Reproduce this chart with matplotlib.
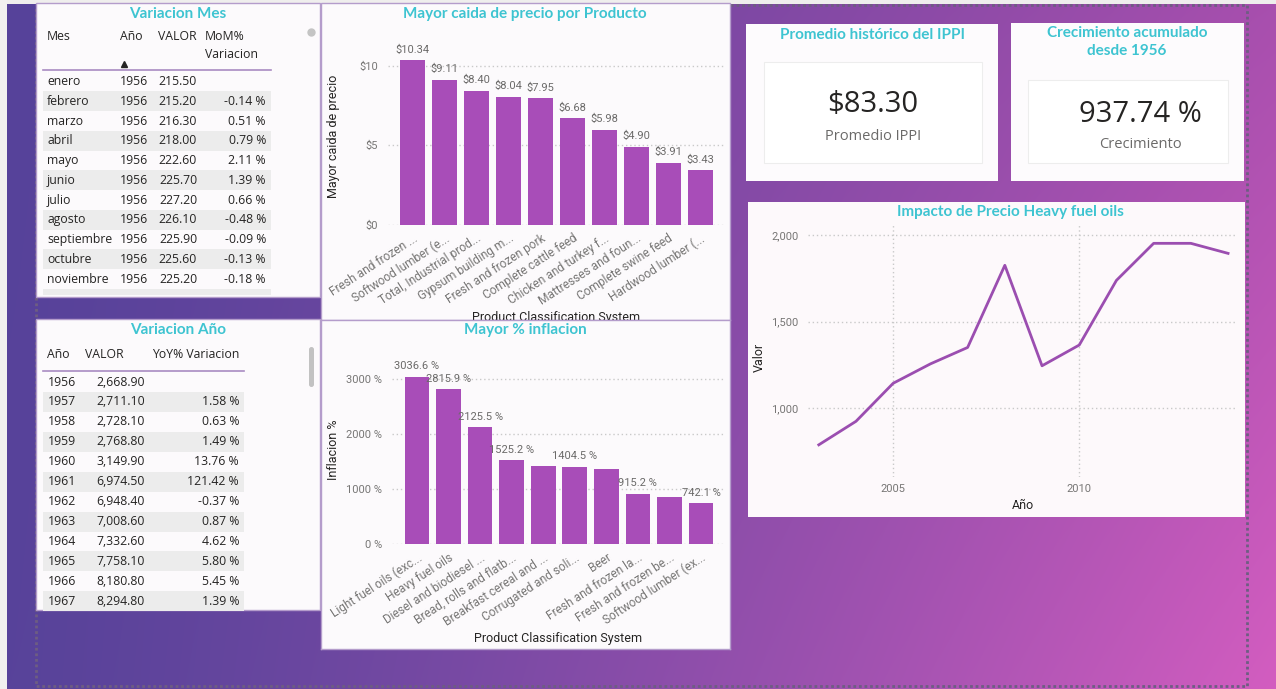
import numpy as np
import matplotlib.pyplot as plt
import matplotlib.colors as mcolors
from matplotlib.patches import Rectangle, FancyBboxPatch

W, H = 1276, 689

# --- tabla "Variacion Mes"
meses = ["enero", "febrero", "marzo", "abril", "mayo", "junio", "julio",
         "agosto", "septiembre", "octubre", "noviembre"]
mes_anio = [1956, 1956, 1956, 1956, 1956, 1956, 1956, 1956, 1956, 1956, 1956]
mes_valor = [215.50, 215.20, 216.30, 218.00, 222.60, 225.70, 227.20,
             226.10, 225.90, 225.60, 225.20]
mes_mom = [None, -0.14, 0.51, 0.79, 2.11, 1.39, 0.66, -0.48, -0.09, -0.13, -0.18]

# --- tabla "Variacion Año"
anios = [1956, 1957, 1958, 1959, 1960, 1961, 1962, 1963, 1964, 1965, 1966, 1967]
anio_valor = [2668.90, 2711.10, 2728.10, 2768.80, 3149.90, 6974.50, 6948.40,
              7008.60, 7332.60, 7758.10, 8180.80, 8294.80]
anio_yoy = [None, 1.58, 0.63, 1.49, 13.76, 121.42, -0.37, 0.87, 4.62, 5.80, 5.45, 1.39]

# --- barras "Mayor caida de precio por Producto"
caida_productos = ["Fresh and frozen ...", "Softwood lumber (e...", "Total, Industrial prod...",
                   "Gypsum building m...", "Fresh and frozen pork", "Complete cattle feed",
                   "Chicken and turkey f...", "Mattresses and foun...", "Complete swine feed",
                   "Hardwood lumber (..."]
caida_valores = [10.34, 9.11, 8.40, 8.04, 7.95, 6.68, 5.98, 4.90, 3.91, 3.43]

# --- barras "Mayor % inflacion"
inflacion_productos = ["Light fuel oils (exc...", "Heavy fuel oils", "Diesel and biodiesel ...",
                       "Bread, rolls and flatb...", "Breakfast cereal and ...",
                       "Corrugated and soli...", "Beer", "Fresh and frozen la...",
                       "Fresh and frozen be...", "Softwood lumber (ex..."]
inflacion_valores = [3036.6, 2815.9, 2125.5, 1525.2, 1424.0, 1404.5, 1370.0, 915.2, 849.0, 742.1]
inflacion_etiqueta = [True, True, True, True, False, True, False, True, False, True]

# --- linea "Impacto de Precio Heavy fuel oils"
fuel_anios = [2003, 2004, 2005, 2006, 2007, 2008, 2009, 2010, 2011, 2012, 2013, 2014]
fuel_valores = [787, 923, 1143, 1255, 1350, 1825, 1244, 1364, 1738, 1952, 1952, 1894]

# --- tarjetas
promedio_ippi = 83.30
crecimiento = 937.74

TEAL = "#3ec4d1"
BAR = "#a84db8"
LINE = "#9b4eb0"
PANEL = "#fcfafc"
TXT = "#252423"
GRAY = "#6b6a69"
GRID = "#c9c9c9"
TITLE_FONT = "Lato"
BODY_FONT = "Open Sans"
AXIS_FONT = "Roboto"


def box(x0, y0, x1, y1):
    return [x0 / W, 1 - y1 / H, (x1 - x0) / W, (y1 - y0) / H]


fig = plt.figure(figsize=(W / 100, H / 100), dpi=100)

# fondo con degradado
bg = fig.add_axes([0, 0, 1, 1])
bg.set_zorder(-1)
xx, yy = np.meshgrid(np.linspace(0, 1, 400), np.linspace(0, 1, 200))
u = (xx ** 1.3)[..., None]
v = yy[..., None]
tl, tr, bl, br = [np.array(mcolors.to_rgb(c)) for c in ("#56429a", "#a84fae", "#58439a", "#d35dc0")]
img = (tl * (1 - u) + tr * u) * (1 - v) + (bl * (1 - u) + br * u) * v
bg.imshow(img, extent=(7, W, H, 4), aspect="auto", interpolation="bilinear")
bg.set_xlim(0, W)
bg.set_ylim(H, 0)
bg.axis("off")
bg.add_patch(Rectangle((0, 0), W, 4, fc="#efeeed", ec="none"))
bg.add_patch(Rectangle((0, 0), 7, H, fc="#f1f0ef", ec="none"))
bg.add_patch(Rectangle((36, 5), 1211, 681, fill=False, ec="#6e5d82", lw=2, ls=(0, (1, 1))))


def panel(x0, y0, x1, y1, fc=PANEL, ec="#b49ccb"):
    bg.add_patch(Rectangle((x0, y0), x1 - x0, y1 - y0, fc=fc, ec=ec, lw=1, zorder=2))


def title(ax, x, y, s):
    ax.text(x, y, s, transform=bg.transData, ha="center", va="center", color=TEAL,
            fontsize=11, fontweight="bold", family=TITLE_FONT, zorder=5)


# ---------------- tabla Variacion Mes
panel(36, 3, 320, 297)
title(bg, 178, 14, "Variacion Mes")
tk = dict(fontsize=8.8, family=BODY_FONT, color=TXT, va="center", zorder=5)
bg.text(47, 37, "Mes", **tk)
bg.text(120, 37, "Año", **tk)
bg.text(158, 37, "VALOR", **tk)
bg.text(205, 37, "MoM%", **tk)
bg.text(205, 55, "Variacion", **tk)
bg.plot([124], [64], marker="^", ms=4, color=TXT, zorder=5)
bg.plot([43, 271], [70, 70], color="#a98bc2", lw=1.2, zorder=5)
step = 19.76
for i, (m, a, val, mom) in enumerate(zip(meses, mes_anio, mes_valor, mes_mom)):
    y = 81.5 + i * step
    if i % 2 == 1:
        bg.add_patch(Rectangle((43, y - step / 2), 228, step, fc="#ececec", ec="none", zorder=3))
    bg.text(47, y, m, **tk)
    bg.text(148, y, f"{a}", ha="right", **tk)
    bg.text(197, y, f"{val:.2f}", ha="right", **tk)
    if mom is not None:
        bg.text(266, y, f"{mom:.2f} %", ha="right", **tk)
last_top = 81.5 + 11 * step - step / 2
bg.add_patch(Rectangle((43, last_top), 228, 295 - last_top, fc="#ececec", ec="none", zorder=3))
bg.plot([311], [32], marker="o", ms=5, color="#c4c4c4", zorder=5)

# ---------------- tabla Variacion Año
panel(36, 319, 320, 610)
title(bg, 178, 330, "Variacion Año")
bg.text(47, 355, "Año", **tk)
bg.text(85, 355, "VALOR", **tk)
bg.text(239, 355, "YoY% Variacion", ha="right", **tk)
bg.plot([43, 244], [371, 371], color="#a98bc2", lw=1.2, zorder=5)
step2 = 19.94
for i, (a, val, yoy) in enumerate(zip(anios, anio_valor, anio_yoy)):
    y = 382 + i * step2
    if i % 2 == 1:
        bg.add_patch(Rectangle((43, y - step2 / 2), 201, step2, fc="#ececec", ec="none", zorder=3))
    bg.text(48, y, f"{a}", **tk)
    bg.text(145, y, f"{val:,.2f}", ha="right", **tk)
    if yoy is not None:
        bg.text(239, y, f"{yoy:.2f} %", ha="right", **tk)
bg.add_patch(FancyBboxPatch((309, 347), 5, 40, boxstyle="round,pad=0,rounding_size=2.5",
                            fc="#c2c2c2", ec="none", zorder=5))

# ---------------- tarjetas KPI
panel(746, 24, 998, 181, fc="#fdfbfd", ec="none")
title(bg, 872, 35, "Promedio histórico del IPPI")
bg.add_patch(Rectangle((764, 62), 218, 101, fc="white", ec="#ededed", lw=0.8, zorder=3))
bg.text(873, 105, f"${promedio_ippi:.2f}", ha="center", va="center", fontsize=21,
        family=BODY_FONT, color=TXT, zorder=5)
bg.text(873, 136, "Promedio IPPI", ha="center", va="center", fontsize=10.5,
        family=BODY_FONT, color=GRAY, zorder=5)

panel(1011, 23, 1244, 181, fc="#fdfbfd", ec="none")
title(bg, 1127, 33, "Crecimiento acumulado")
title(bg, 1127, 51, "desde 1956")
bg.add_patch(Rectangle((1028, 80), 200, 83, fc="white", ec="#ededed", lw=0.8, zorder=3))
bg.text(1140, 114, f"{crecimiento:.2f} %", ha="center", va="center", fontsize=21,
        family=BODY_FONT, color=TXT, zorder=5)
bg.text(1140, 144, "Crecimiento", ha="center", va="center", fontsize=10.5,
        family=BODY_FONT, color=GRAY, zorder=5)

# ---------------- panel linea
panel(748, 202, 1245, 517, fc="#fdf9fb", ec="none")
title(bg, 1010, 212, "Impacto de Precio Heavy fuel oils")

# ---------------- panel barras 1
panel(321, 3, 730, 320)
title(bg, 525, 14, "Mayor caida de precio por Producto")


def style_axes(ax):
    ax.set_facecolor("none")
    for s in ax.spines.values():
        s.set_visible(False)
    ax.tick_params(length=0, labelsize=8, labelcolor="#777675")
    for lab in ax.get_xticklabels() + ax.get_yticklabels():
        lab.set_family(AXIS_FONT)


ax1 = fig.add_axes(box(388, 40, 725, 225))
ax1.set_zorder(1)
pos1 = np.arange(len(caida_valores))
ax1.bar(pos1, caida_valores, width=0.78, color=BAR, zorder=2)
ax1.set_xlim(-0.78, 9.78)
ax1.set_ylim(0, 11.6)
ax1.set_yticks([0, 5, 10])
ax1.set_yticklabels(["$0", "$5", "$10"])
ax1.set_xticks(pos1)
ax1.set_xticklabels(caida_productos, rotation=33, ha="right", rotation_mode="anchor")
ax1.grid(axis="y", ls=(0, (1, 2)), color=GRID, lw=1)
ax1.set_axisbelow(True)
style_axes(ax1)
ax1.tick_params(axis="x", pad=5, labelsize=8.6)
ax1.tick_params(axis="y", pad=7)
for xi, val in zip(pos1, caida_valores):
    ax1.annotate(f"${val:.2f}", (xi, val), xytext=(0, 4), textcoords="offset points",
                 ha="center", va="bottom", fontsize=8, color="#6b6a69", family=AXIS_FONT)
ax1.set_ylabel("Mayor caida de precio", fontsize=9, color=TXT, family=AXIS_FONT)
ax1.yaxis.set_label_coords((340 - 388) / 337, 0.48)
ax1.set_xlabel("Product Classification System", fontsize=9, color=TXT, family=AXIS_FONT)
ax1.xaxis.set_label_coords(0.5, (225 - 311) / 185)

# ---------------- panel barras 2 (tapa la etiqueta del eje del panel de arriba)
p2 = fig.add_axes(box(321, 320, 730, 649))
p2.set_zorder(2)
p2.set_facecolor(PANEL)
p2.set_xticks([])
p2.set_yticks([])
for s in p2.spines.values():
    s.set_color("#b49ccb")
    s.set_linewidth(1)
title(p2, 525, 330, "Mayor % inflacion")

ax2 = fig.add_axes(box(392, 355, 725, 544))
ax2.set_zorder(3)
pos2 = np.arange(len(inflacion_valores))
ax2.bar(pos2, inflacion_valores, width=0.78, color=BAR, zorder=2)
ax2.set_xlim(-0.79, 9.76)
ax2.set_ylim(0, 3436)
ax2.set_yticks([0, 1000, 2000, 3000])
ax2.set_yticklabels(["0 %", "1000 %", "2000 %", "3000 %"])
ax2.set_xticks(pos2)
ax2.set_xticklabels(inflacion_productos, rotation=33, ha="right", rotation_mode="anchor")
ax2.grid(axis="y", ls=(0, (1, 2)), color=GRID, lw=1)
ax2.set_axisbelow(True)
style_axes(ax2)
ax2.tick_params(axis="x", pad=5, labelsize=8.6)
ax2.tick_params(axis="y", pad=7)
for xi, val, show in zip(pos2, inflacion_valores, inflacion_etiqueta):
    if show:
        ax2.annotate(f"{val:.1f} %", (xi, val), xytext=(0, 4), textcoords="offset points",
                     ha="center", va="bottom", fontsize=8, color="#6b6a69", family=AXIS_FONT)
ax2.set_ylabel("Inflacion %", fontsize=9, color=TXT, family=AXIS_FONT)
ax2.yaxis.set_label_coords((340 - 392) / 333, 0.5)
ax2.set_xlabel("Product Classification System", fontsize=9, color=TXT, family=AXIS_FONT)
ax2.xaxis.set_label_coords(0.5, (544 - 632) / 189)

# ---------------- linea
ax3 = fig.add_axes(box(808, 225, 1237, 477))
ax3.set_zorder(1)
ax3.plot(fuel_anios, fuel_valores, color=LINE, lw=2, zorder=3)
ax3.set_xlim(2002.71, 2014.24)
ax3.set_ylim(601, 2058)
ax3.set_xticks([2005, 2010])
ax3.set_yticks([1000, 1500, 2000])
ax3.set_yticklabels([f"{t:,}" for t in [1000, 1500, 2000]])
ax3.grid(True, ls=(0, (1, 2)), color=GRID, lw=1)
style_axes(ax3)
ax3.tick_params(axis="y", pad=7)
ax3.tick_params(axis="x", pad=5)
ax3.set_ylabel("Valor", fontsize=9, color=TXT, family=AXIS_FONT)
ax3.yaxis.set_label_coords((766 - 808) / 429, 0.476)
ax3.set_xlabel("Año", fontsize=9, color=TXT, family=AXIS_FONT)
ax3.xaxis.set_label_coords(0.5, (477 - 499) / 252)

fig.savefig("out.png", dpi=100)
